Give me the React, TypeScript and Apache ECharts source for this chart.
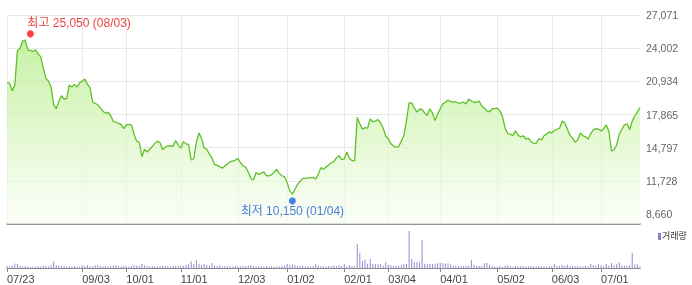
import React, { useEffect, useRef } from 'react';
import * as echarts from 'echarts';

// ---------- data ----------
const startDate = '2018-07-23';
const endDate = '2019-07-22';
const marketHolidays = [
  '2018-08-15', '2018-09-24', '2018-09-25', '2018-09-26', '2018-10-03', '2018-10-09',
  '2018-12-25', '2018-12-31', '2019-01-01', '2019-02-04', '2019-02-05', '2019-02-06',
  '2019-03-01', '2019-05-01', '2019-05-06', '2019-06-06',
];

const tickDates = [
  '2018-07-23', '2018-09-03', '2018-10-01', '2018-11-01', '2018-12-03', '2019-01-02',
  '2019-02-01', '2019-03-04', '2019-04-01', '2019-05-02', '2019-06-03', '2019-07-01',
];

const priceTicks = [8660, 11728, 14797, 17865, 20934, 24002, 27071];

const closePrices = [
  20850, 20750, 20050, 20550, 23750, 24000, 24650, 24750, 23850, 23800,
  23700, 23850, 23500, 23200, 22150, 21200, 20950, 20400, 18750, 18400,
  19100, 19600, 19300, 19350, 20600, 20400, 20650, 20400, 20800, 20950,
  21150, 20650, 20350, 19000, 18900, 18750, 18500, 18150, 18000, 18050,
  17750, 17200, 17150, 17050, 16950, 16550, 16900, 16950, 16900, 16000,
  15400, 15300, 13950, 14650, 14400, 14650, 14900, 15200, 15400, 15250,
  14600, 14850, 14950, 14950, 14950, 15450, 15050, 14750, 15350, 15150,
  15100, 13650, 13800, 15300, 16150, 15650, 14750, 14650, 14200, 13850,
  13250, 13150, 13050, 12900, 13100, 13300, 13500, 13550, 13650, 13800,
  13400, 13100, 13000, 12550, 11950, 11800, 12500, 12300, 12450, 12550,
  12200, 12200, 12300, 12550, 12800, 12400, 12200, 12100, 11550, 10800,
  10500, 10950, 11400, 11700, 11950, 11950, 12000, 12000, 12050, 11900,
  12350, 12950, 12800, 13000, 13200, 13400, 13500, 13850, 14050, 13700,
  13750, 14400, 13800, 13600, 13600, 17600, 17000, 16500, 16650, 16600,
  17450, 17200, 17250, 17400, 17100, 16600, 15850, 15600, 15150, 14950,
  14850, 14900, 15400, 15950, 17350, 18950, 18950, 18450, 18100, 18350,
  18350, 18000, 17800, 18400, 18000, 17300, 17900, 18400, 18850, 19000,
  19200, 19050, 19000, 19050, 18900, 18950, 19000, 18850, 19300, 19100,
  19000, 19000, 19100, 18650, 18450, 18200, 18100, 18400, 18400, 18450,
  18200, 17650, 16600, 16100, 16050, 15900, 16350, 15950, 15800, 15900,
  15600, 15650, 15350, 15200, 15200, 15650, 15500, 15900, 16050, 16250,
  16150, 16400, 16500, 16600, 17250, 17100, 16500, 15950, 15650, 15300,
  15500, 16150, 15900, 15800, 15600, 16100, 16450, 16550, 16500, 16350,
  16550, 16900, 16300, 14500, 14600, 15050, 16050, 16500, 16900, 17000,
  16450, 17250, 17750, 18100, 18500,
];

// trading volume (thousand shares)
const volumes = [
  200, 150, 250, 450, 400, 200, 150, 180, 150, 130,
  150, 120, 200, 150, 250, 200, 150, 300, 680, 300,
  250, 200, 250, 150, 180, 150, 200, 150, 130, 250,
  200, 300, 150, 180, 250, 300, 200, 150, 220, 150,
  200, 250, 300, 180, 150, 200, 180, 150, 200, 300,
  250, 200, 400, 250, 200, 150, 200, 180, 150, 200,
  250, 200, 180, 150, 200, 230, 200, 250, 200, 300,
  350, 680, 400, 770, 400, 300, 400, 300, 250, 500,
  250, 200, 300, 150, 200, 180, 200, 150, 200, 180,
  150, 200, 180, 250, 300, 200, 180, 150, 200, 150,
  180, 150, 200, 130, 180, 150, 200, 250, 400, 300,
  350, 300, 200, 180, 250, 150, 200, 180, 200, 400,
  250, 200, 180, 150, 200, 180, 250, 200, 300, 200,
  400, 130, 300, 200, 170, 2400, 1500, 700, 800, 430,
  900, 400, 400, 370, 370, 230, 600, 330, 270, 200,
  230, 230, 330, 400, 430, 3700, 900, 570, 570, 570,
  2800, 430, 430, 400, 400, 430, 470, 500, 500, 430,
  470, 370, 230, 230, 200, 200, 200, 230, 230, 800,
  330, 200, 200, 230, 500, 500, 330, 170, 130, 130,
  200, 130, 230, 270, 200, 130, 200, 170, 170, 200,
  150, 170, 200, 150, 170, 200, 150, 170, 130, 170,
  200, 400, 200, 200, 300, 200, 330, 200, 200, 170,
  200, 150, 170, 200, 150, 430, 300, 230, 400, 270,
  200, 430, 230, 500, 300, 370, 570, 230, 230, 230,
  270, 1500, 370, 370, 150,
];

const highDate = '2018-08-03';
const highValue = 25050;
const lowDate = '2019-01-04';
const lowValue = 10150;

// ---------- helpers ----------
function buildTradingDays(start: string, end: string, off: string[]): string[] {
  const res: string[] = [];
  const offSet = new Set(off);
  const [sy, sm, sd] = start.split('-').map(Number);
  const [ey, em, ed] = end.split('-').map(Number);
  let t = Date.UTC(sy, sm - 1, sd);
  const e = Date.UTC(ey, em - 1, ed);
  while (t <= e) {
    const d = new Date(t);
    const wd = d.getUTCDay();
    const s = d.toISOString().slice(0, 10);
    if (wd !== 0 && wd !== 6 && !offSet.has(s)) res.push(s);
    t += 86400000;
  }
  return res;
}
const fmtDate = (s: string) => s.slice(5).replace('-', '/');
const fmtNum = (v: number) => Math.floor(v).toLocaleString('en-US');

const FONT = "'Liberation Sans', Arial, 'Noto Sans CJK KR', sans-serif";

export default function App() {
  const ref = useRef<HTMLDivElement>(null);
  useEffect(() => {
    if (!ref.current) return;
    const chart = echarts.init(ref.current, undefined, { renderer: 'svg' });
    const dates = buildTradingDays(startDate, endDate, marketHolidays);
    const tickSet = new Set(tickDates);
    const showTick = (_i: number, v: string) => tickSet.has(v);

    const priceMin = priceTicks[0];
    const priceMax = priceTicks[priceTicks.length - 1];
    // extra room below the lowest gridline (10px of 199px span)
    const axisMin = priceMin - ((priceMax - priceMin) / 199) * 10;

    const option: any = {
      animation: false,
      grid: [
        { left: 7, right: 52, top: 15, height: 209 },
        { left: 7, right: 52, top: 228, height: 40 },
      ],
      xAxis: [
        {
          type: 'category', gridIndex: 0, data: dates, boundaryGap: false,
          axisLine: { show: true, lineStyle: { color: '#70737c', width: 1.5 } },
          axisTick: { show: false },
          axisLabel: { show: false },
          splitLine: { show: true, interval: showTick, lineStyle: { color: '#e8e8e8', width: 1 } },
        },
        {
          type: 'category', gridIndex: 1, data: dates, boundaryGap: false,
          axisLine: { show: true, lineStyle: { color: '#8a8a8a', width: 1 } },
          axisTick: { show: true, interval: showTick, length: 4, lineStyle: { color: '#8a8a8a' } },
          axisLabel: {
            show: true, interval: showTick, formatter: (v: string) => fmtDate(v),
            align: 'left', margin: 5, color: '#444', fontSize: 11, fontFamily: FONT,
          },
          splitLine: { show: false },
        },
      ],
      yAxis: [
        {
          type: 'value', gridIndex: 0, position: 'right', min: axisMin, max: priceMax,
          axisLine: { show: false },
          axisTick: { show: false, customValues: priceTicks },
          axisLabel: {
            customValues: priceTicks, formatter: (v: number) => fmtNum(v),
            color: '#666', fontSize: 10.5, margin: 6, fontFamily: FONT,
          },
          splitLine: { show: true, lineStyle: { color: '#e8e8e8', width: 1 } },
        },
        {
          type: 'value', gridIndex: 1, min: 0, max: 4000,
          axisLine: { show: false }, axisTick: { show: false }, axisLabel: { show: false },
          splitLine: { show: false },
        },
      ],
      graphic: [
        { type: 'rect', left: 658, top: 233, shape: { width: 3, height: 7 }, style: { fill: '#8f7bd0' } },
        { type: 'text', left: 662, top: 231, style: { text: '거래량', fontSize: 9, fill: '#333', fontFamily: "'Noto Sans CJK KR', sans-serif" } },
      ],
      series: [
        {
          type: 'line', xAxisIndex: 0, yAxisIndex: 0, data: closePrices,
          showSymbol: false, symbol: 'none',
          lineStyle: { color: '#5fc127', width: 1.3 },
          areaStyle: {
            origin: 'start',
            color: new echarts.graphic.LinearGradient(0, 0, 0, 1, [
              { offset: 0, color: '#b0ea80' },
              { offset: 0.45, color: '#d4f5b8' },
              { offset: 1, color: '#fafef6' },
            ]),
          },
          z: 2,
        },
        {
          type: 'scatter', xAxisIndex: 0, yAxisIndex: 0,
          data: [[highDate, highValue]], symbolSize: 7, symbolOffset: [0, -3],
          itemStyle: { color: '#ff1010' },
          label: {
            show: true, position: 'top', distance: 1, align: 'left', offset: [-3, 0],
            formatter: `최고 ${fmtNum(highValue)} (${fmtDate(highDate)})`,
            color: '#e8120c', fontSize: 12, fontFamily: FONT,
          },
          z: 5,
        },
        {
          type: 'scatter', xAxisIndex: 0, yAxisIndex: 0,
          data: [[lowDate, lowValue]], symbolSize: 7, symbolOffset: [0, 3],
          itemStyle: { color: '#1b63d8' },
          label: {
            show: true, position: 'bottom', distance: 1,
            formatter: `최저 ${fmtNum(lowValue)} (${fmtDate(lowDate)})`,
            color: '#1e5fcc', fontSize: 12, fontFamily: FONT,
          },
          z: 5,
        },
        {
          type: 'bar', xAxisIndex: 1, yAxisIndex: 1, data: volumes,
          barWidth: 1, itemStyle: { color: '#9b87d4' },
        },
      ],
    };
    chart.setOption(option);
    return () => chart.dispose();
  }, []);
  return <div ref={ref} style={{ position: 'fixed', left: 0, top: 0, width: 692, height: 285 }} />;
}
